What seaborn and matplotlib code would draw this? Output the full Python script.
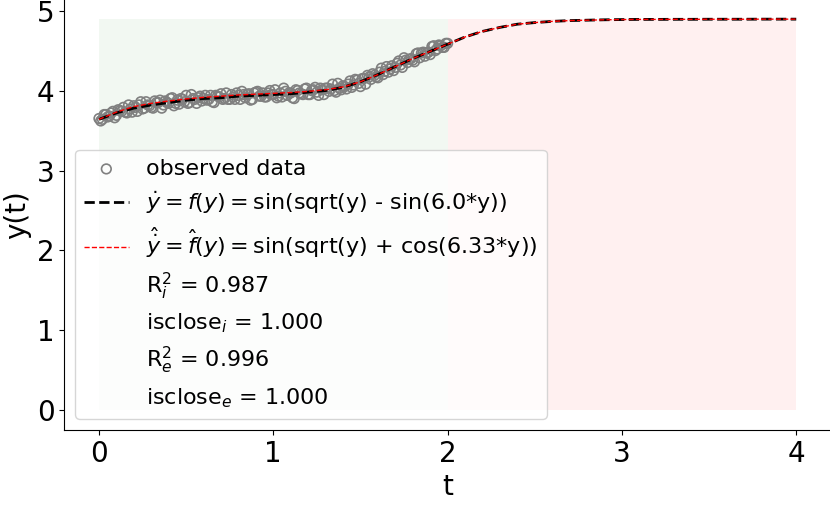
import numpy as np
import pandas as pd
import matplotlib
matplotlib.use("Agg")
import matplotlib.pyplot as plt
import seaborn as sns

sns.set_style("ticks", {"axes.edgecolor": "black", "text.color": "black",
                        "xtick.color": "black", "ytick.color": "black",
                        "axes.labelcolor": "black"})

# observed samples on the training window (t = 0 .. 2)
t_obs_a = np.round(np.linspace(0.0, 2.0, 101), 2)
y_obs_a = [3.65, 3.64, 3.70, 3.68, 3.74, 3.69, 3.75, 3.79, 3.72, 3.77,
           3.81, 3.74, 3.86, 3.78, 3.82, 3.79, 3.87, 3.85, 3.78, 3.87,
           3.84, 3.91, 3.84, 3.83, 3.89, 3.94, 3.85, 3.90, 3.84, 3.93,
           3.90, 3.88, 3.94, 3.85, 3.93, 3.96, 3.90, 3.89, 3.95, 3.89,
           3.94, 3.99, 3.91, 3.96, 3.89, 3.98, 3.93, 3.97, 3.92, 4.00,
           3.95, 3.91, 3.97, 4.03, 3.94, 3.97, 3.90, 4.00, 3.96, 4.02,
           3.95, 4.00, 4.04, 3.94, 4.01, 4.03, 3.99, 4.08, 3.98, 4.03,
           4.06, 4.02, 4.12, 4.07, 4.13, 4.05, 4.15, 4.19, 4.14, 4.19,
           4.16, 4.28, 4.24, 4.23, 4.31, 4.29, 4.37, 4.29, 4.38, 4.39,
           4.38, 4.46, 4.41, 4.48, 4.47, 4.45, 4.56, 4.52, 4.56, 4.54,
           4.59]
t_obs_b = np.round(np.linspace(0.01, 1.99, 100), 2)
y_obs_b = [3.62, 3.70, 3.67, 3.72, 3.66, 3.76, 3.74, 3.73, 3.82, 3.73,
           3.79, 3.82, 3.77, 3.86, 3.81, 3.78, 3.85, 3.88, 3.82, 3.85,
           3.90, 3.81, 3.88, 3.90, 3.86, 3.84, 3.95, 3.89, 3.91, 3.87,
           3.94, 3.89, 3.86, 3.94, 3.92, 3.89, 3.97, 3.89, 3.92, 3.97,
           3.89, 3.95, 3.95, 3.88, 3.97, 3.99, 3.93, 3.92, 3.97, 3.95,
           4.01, 3.93, 3.92, 3.99, 3.97, 3.91, 4.01, 3.97, 3.95, 4.03,
           3.95, 4.01, 3.98, 4.03, 3.95, 4.03, 4.02, 4.00, 4.09, 4.01,
           4.05, 4.08, 4.04, 4.14, 4.09, 4.15, 4.08, 4.17, 4.21, 4.17,
           4.23, 4.20, 4.30, 4.27, 4.25, 4.34, 4.32, 4.41, 4.35, 4.40,
           4.36, 4.47, 4.47, 4.43, 4.48, 4.55, 4.50, 4.57, 4.54, 4.59]

# true and fitted trajectories (t = 0 .. 4, step 0.1)
t_curve = np.round(np.linspace(0.0, 4.0, 41), 1)
y_true = [3.64, 3.72, 3.78, 3.82, 3.85, 3.88, 3.90, 3.91, 3.93, 3.94,
          3.95, 3.96, 3.98, 4.00, 4.04, 4.11, 4.20, 4.30, 4.40, 4.49,
          4.58, 4.67, 4.74, 4.79, 4.83, 4.85, 4.865, 4.875, 4.88, 4.885,
          4.888, 4.89, 4.89, 4.891, 4.891, 4.892, 4.892, 4.892, 4.893, 4.893,
          4.893]
y_fit = [3.64, 3.73, 3.80, 3.84, 3.87, 3.895, 3.915, 3.93, 3.945, 3.955,
         3.965, 3.975, 3.99, 4.01, 4.045, 4.11, 4.20, 4.30, 4.40, 4.49,
         4.58, 4.67, 4.74, 4.79, 4.83, 4.85, 4.865, 4.875, 4.88, 4.885,
         4.888, 4.89, 4.89, 4.891, 4.891, 4.892, 4.892, 4.892, 4.893, 4.893,
         4.893]

t_train = [0.0, 2.0]
t_test = [2.0, 4.0]
y_top = 4.89

label_true = r'$\dot{y} = f(y) = $sin(sqrt(y) - sin(6.0*y))'
label_fit = r'$\hat{\dot{y}} = \hat{f}(y) = $sin(sqrt(y) + cos(6.33*y))'
stats = ['R$^2_i$ = 0.987', 'isclose$_i$ = 1.000',
         'R$^2_e$ = 0.996', 'isclose$_e$ = 1.000']

obs = pd.DataFrame({'t': np.concatenate([t_obs_a, t_obs_b]),
                    'y': y_obs_a + y_obs_b}).sort_values('t')
curves = pd.DataFrame({'t': t_curve, 'true': y_true, 'fit': y_fit})

fig = plt.figure(figsize=(8.3, 5.05), dpi=100)
ax = fig.add_axes([64.1 / 830, 75 / 505, 767 / 830, 431 / 505])

ax.fill_between(t_train, 0, y_top, color='green', alpha=0.05, lw=0)
ax.fill_between(t_test, 0, y_top, color='red', alpha=0.06, lw=0)

sns.scatterplot(data=obs, x='t', y='y', ax=ax, s=48, facecolor='none',
                edgecolor='gray', linewidth=1.2, label='observed data')
sns.lineplot(data=curves, x='t', y='true', ax=ax, color='black',
             linestyle='--', linewidth=2, label=label_true)
sns.lineplot(data=curves, x='t', y='fit', ax=ax, color='red',
             linestyle='--', linewidth=1, label=label_fit)
for s in stats:
    ax.plot([], [], ' ', label=s)

ax.set_xlim(-0.2, 4.2)
ax.set_ylim(-0.245, 5.145)
ax.set_xticks([0, 1, 2, 3, 4])
ax.set_yticks([0, 1, 2, 3, 4, 5])
ax.set_xlabel('t', fontsize=20)
ax.set_ylabel('y(t)', fontsize=20)
ax.tick_params(labelsize=20)
sns.despine(ax=ax)
ax.legend(loc='lower left', fontsize=16, labelspacing=0.45)

fig.savefig('out.png', dpi=100)
